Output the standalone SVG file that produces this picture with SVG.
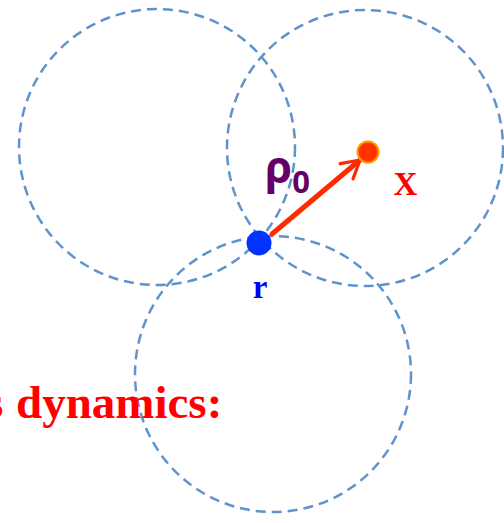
<svg xmlns="http://www.w3.org/2000/svg" width="504" height="523" viewBox="0 0 504 523">
  <style>
    .ring { fill: none; stroke: #5f93cc; stroke-width: 2.5; stroke-dasharray: 10 6; }
    .serif { font-family: "Liberation Serif", "Times New Roman", serif; font-weight: bold; }
  </style>
  <defs>
    <marker id="chev" viewBox="0 0 10 10" refX="8" refY="5" markerWidth="5" markerHeight="5" orient="auto" markerUnits="strokeWidth">
      <path d="M1,1 L8,5 L1,9" fill="none" stroke="#ff2a00" stroke-width="1.3" stroke-linecap="round" stroke-linejoin="round"/>
    </marker>
  </defs>
  <rect width="504" height="523" fill="#ffffff"/>
  <g id="circles">
    <circle id="circle-left" class="ring" cx="157" cy="147" r="138"/>
    <circle id="circle-right" class="ring" cx="365" cy="148" r="138"/>
    <circle id="circle-bottom" class="ring" cx="273" cy="374" r="138"/>
  </g>
  <g id="connectors">
    <line x1="272" y1="234" x2="360" y2="160" stroke="#ff2a00" stroke-width="5" stroke-linecap="round" marker-end="url(#chev)"/>
  </g>
  <g id="node-r">
    <circle cx="259" cy="243" r="12.5" fill="#0033ff"/>
    <text class="serif" x="260" y="298" font-size="33" fill="#0000ff" text-anchor="middle">r</text>
  </g>
  <g id="node-x">
    <circle cx="368" cy="152" r="10.5" fill="#ff3300" stroke="#ff9900" stroke-width="2"/>
    <text class="serif" x="405.5" y="195" font-size="33" fill="#ff0000" text-anchor="middle">X</text>
  </g>
  <g id="label-rho">
    <text x="265" y="183" font-family="'Noto Sans', 'DejaVu Sans', sans-serif" font-weight="bold" font-size="44" fill="#660066">ρ<tspan font-size="31" dy="10">0</tspan></text>
  </g>
  <g id="title">
    <text class="serif" x="-15" y="418" font-size="47" fill="#ff0000">s</text>
    <text class="serif" x="16" y="418" font-size="47" fill="#ff0000">dynamics:</text>
  </g>
</svg>
